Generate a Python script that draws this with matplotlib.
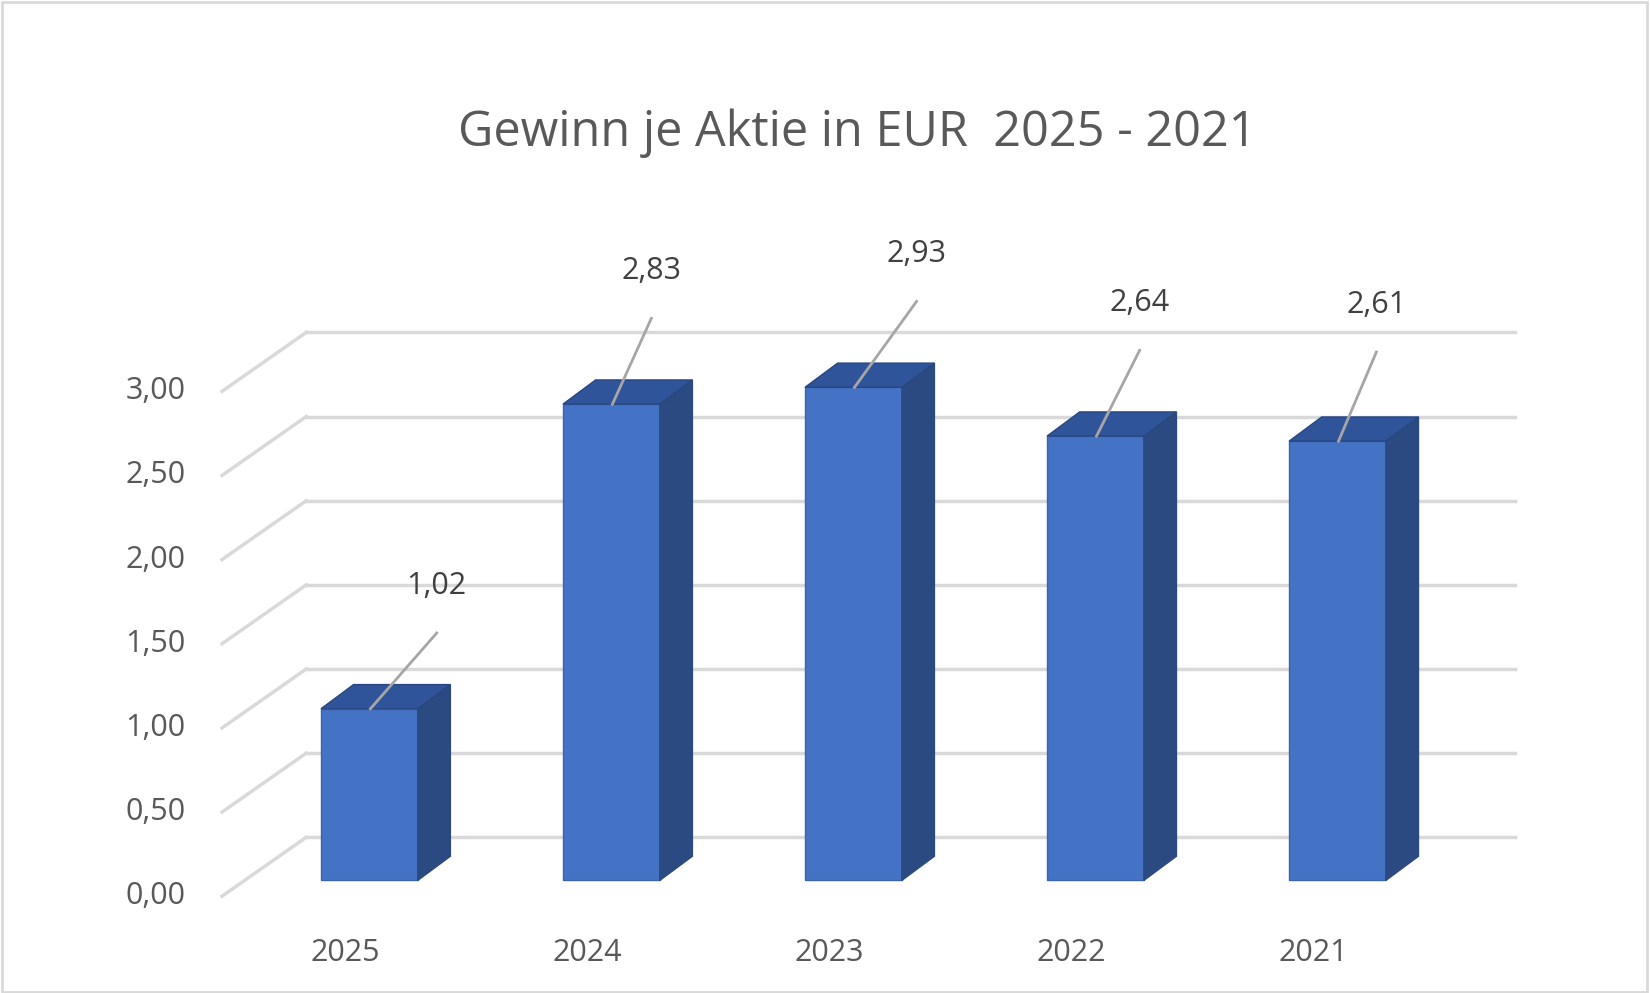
import matplotlib
matplotlib.use("Agg")
import matplotlib.pyplot as plt
from matplotlib.patches import Polygon, Rectangle

years = ["2025", "2024", "2023", "2022", "2021"]
values = [1.02, 2.83, 2.93, 2.64, 2.61]
label_texts = ["1,02", "2,83", "2,93", "2,64", "2,61"]
ticks = [0.0, 0.5, 1.0, 1.5, 2.0, 2.5, 3.0]
tick_labels = ["0,00", "0,50", "1,00", "1,50", "2,00", "2,50", "3,00"]
title = "Gewinn je Aktie in EUR  2025 - 2021"

# layout (reference pixel units on x, value units on y)
W, H = 1568, 944
PPU = 160.0
base_px = 837
front_off = -(852 - 837) / PPU
back_off = (837 - 796) / PPU
front_x, back_x0, back_x1 = 211, 291, 1440
centers = [351 + 230 * i for i in range(len(values))]
bw, ddx, ddy = 92, 31, 23 / PPU
lab_dx = [64, 38, 60, 42, 37]
lab_dy = [0.64, 0.70, 0.70, 0.70, 0.72]

fig = plt.figure(figsize=(16.5, 9.93), dpi=100)
ax = fig.add_axes([0, 0, 1, 1])
ax.set_xlim(0, W)
ax.set_ylim((base_px - H) / PPU, base_px / PPU)
ax.axis("off")

grid_c = "#D9D9D9"
for t, tl in zip(ticks, tick_labels):
    ax.plot([back_x0, back_x1], [t + back_off] * 2, color=grid_c, lw=2.5, zorder=1)
    ax.plot([front_x, back_x0], [t + front_off, t + back_off], color=grid_c, lw=2.5, zorder=1)
    ax.text(176, t + front_off, tl, ha="right", va="center", fontsize=22,
            color="#595959", family="Open Sans")

front_c, side_c, top_c = "#4472C4", "#2B4A82", "#30549A"
for c, v, yr, lt, dx, dy in zip(centers, values, years, label_texts, lab_dx, lab_dy):
    x0, x1 = c - bw / 2, c + bw / 2
    ax.add_patch(Rectangle((x0, 0), bw, v, facecolor=front_c, edgecolor="#3A64B0", lw=1, zorder=3))
    ax.add_patch(Polygon([(x1, 0), (x1 + ddx, ddy), (x1 + ddx, v + ddy), (x1, v)],
                         closed=True, facecolor=side_c, edgecolor=side_c, zorder=3))
    ax.add_patch(Polygon([(x0, v), (x0 + ddx, v + ddy), (x1 + ddx, v + ddy), (x1, v)],
                         closed=True, facecolor=top_c, edgecolor="#284680", lw=1, zorder=3))
    ax.plot([c + 1, c + dx], [v, v + dy - 0.19], color="#A6A6A6", lw=2, zorder=4)
    ax.text(c + dx, v + dy, lt, ha="center", va="bottom", fontsize=22,
            color="#404040", family="Open Sans")
    ax.text(c - 23, -0.43, yr, ha="center", va="center", fontsize=22,
            color="#595959", family="Open Sans")

ax.text(815, (base_px - 127) / PPU, title, ha="center", va="center", fontsize=35,
        color="#595959", family="Open Sans")

fig.patches.append(Rectangle((0.001, 0.001), 0.997, 0.997, transform=fig.transFigure,
                             fill=False, edgecolor="#D9D9D9", lw=2))
fig.savefig("out.png", dpi=100, facecolor="white")
